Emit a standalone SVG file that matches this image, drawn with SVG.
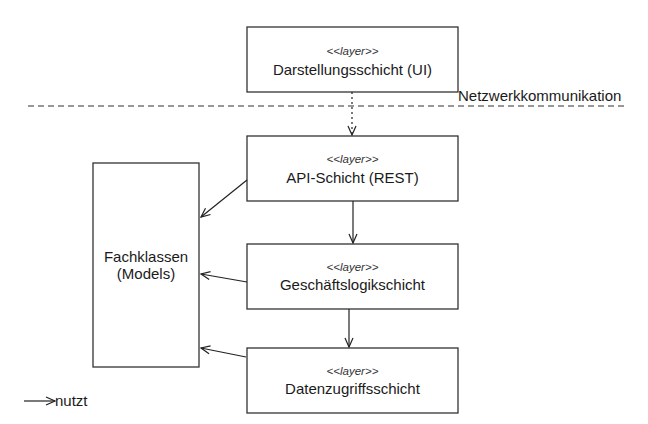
<svg xmlns="http://www.w3.org/2000/svg" width="648" height="424" viewBox="0 0 648 424">
<style>
.box{fill:#fff;stroke:#333;stroke-width:1.3}
.c{fill:none;stroke:#222;stroke-width:1.2}
text{font-family:"Liberation Sans",Arial,sans-serif;fill:#1a1a1a}
.st{font-size:11.5px;font-style:italic;text-anchor:middle;fill:#333}
.lb{font-size:15px;text-anchor:middle}
</style>
<defs>
<marker id="ah" markerWidth="12" markerHeight="12" refX="10" refY="5" orient="auto" markerUnits="userSpaceOnUse">
<path d="M1,1 L10,5 L1,9" fill="none" stroke="#222" stroke-width="1.2"/>
</marker>
</defs>
<rect width="648" height="424" fill="#fff"/>
<line x1="28" y1="106" x2="628" y2="106" stroke="#333" stroke-width="1.2" stroke-dasharray="6,4"/>
<text x="458" y="101" font-size="15">Netzwerkkommunikation</text>
<g id="ui"><rect class="box" x="247" y="27" width="211" height="65"/><text class="st" x="352.5" y="55">&lt;&lt;layer&gt;&gt;</text><text class="lb" x="352.5" y="75">Darstellungsschicht (UI)</text></g>
<g id="api"><rect class="box" x="247" y="136" width="211" height="65"/><text class="st" x="352.5" y="163">&lt;&lt;layer&gt;&gt;</text><text class="lb" x="352.5" y="183">API-Schicht (REST)</text></g>
<g id="bl"><rect class="box" x="247" y="244" width="211" height="65"/><text class="st" x="352.5" y="271">&lt;&lt;layer&gt;&gt;</text><text class="lb" x="352.5" y="290">Geschäftslogikschicht</text></g>
<g id="dal"><rect class="box" x="247" y="348" width="211" height="65"/><text class="st" x="352.5" y="375">&lt;&lt;layer&gt;&gt;</text><text class="lb" x="352.5" y="394">Datenzugriffsschicht</text></g>
<g id="models"><rect class="box" x="93" y="163" width="106" height="204"/><text class="lb" x="146" y="262">Fachklassen</text><text class="lb" x="146" y="279">(Models)</text></g>
<g id="connectors">
<line class="c" x1="352" y1="92" x2="352" y2="135" stroke-dasharray="2,3" marker-end="url(#ah)"/>
<line class="c" x1="247" y1="180" x2="201" y2="217" marker-end="url(#ah)"/>
<line class="c" x1="353" y1="201" x2="353" y2="243" marker-end="url(#ah)"/>
<line class="c" x1="247" y1="282" x2="201" y2="274" marker-end="url(#ah)"/>
<line class="c" x1="349" y1="309" x2="349" y2="347" marker-end="url(#ah)"/>
<line class="c" x1="246" y1="357" x2="201" y2="348" marker-end="url(#ah)"/>
<line class="c" x1="24" y1="401" x2="55" y2="401" marker-end="url(#ah)"/>
</g>
<text x="55" y="406" font-size="15">nutzt</text>
</svg>
